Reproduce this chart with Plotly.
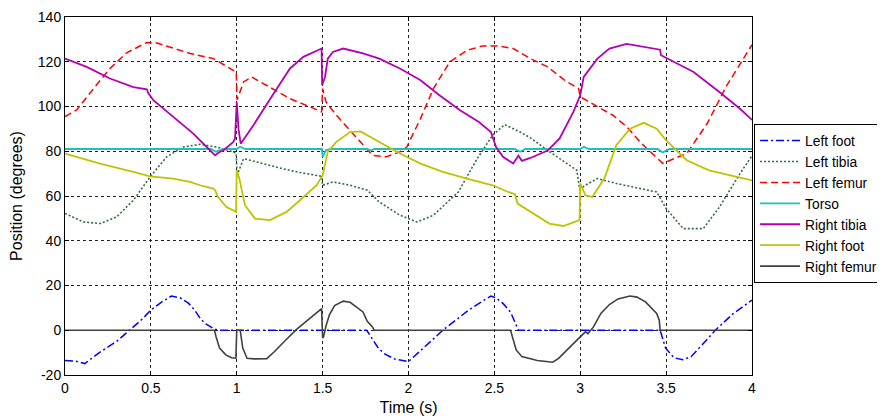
import plotly.graph_objects as go

# ---------------- data ----------------
left_foot_t = [0, 0.06, 0.115, 0.2, 0.3, 0.378, 0.45, 0.5, 0.56, 0.62, 0.67, 0.72, 0.755, 0.79, 0.82, 0.87, 0.9,
               1.0, 1.5, 1.757, 1.79, 1.82, 1.855, 1.92, 2.0, 2.1, 2.2, 2.3, 2.35, 2.42, 2.48, 2.51, 2.55, 2.595,
               2.64, 3.0, 3.465, 3.497, 3.547, 3.596, 3.645, 3.71, 3.786, 3.89, 4.0]
left_foot_v = [-13.5, -13.8, -14.9, -10, -5, 0, 5, 9, 12.5, 15.3, 14.5, 12, 9, 5, 2.8, 0.5, 0,
               0, 0, 0, -4, -7.5, -10.3, -12.9, -14, -7, 0, 6, 9, 12.5, 15.3, 14.5, 12, 8,
               0, 0, 0, -8, -12.3, -13.2, -11.8, -6.5, 0, 7.4, 13.5]

left_tibia_t = [0, 0.107, 0.204, 0.3, 0.398, 0.495, 0.592, 0.689, 0.786, 0.883, 0.98, 0.997, 1.002, 1.04, 1.116,
                1.25, 1.368, 1.427, 1.494, 1.5, 1.56, 1.66, 1.76, 1.83, 1.95, 2.05, 2.145, 2.29, 2.40, 2.49, 2.56,
                2.65, 2.71, 2.81, 2.98, 2.997, 3.03, 3.1, 3.21, 3.35, 3.445, 3.5, 3.6, 3.716, 3.81, 3.93, 4.0]
left_tibia_v = [52.2, 48.4, 47.7, 50.6, 58.1, 68.5, 77.5, 81.9, 83.1, 81.9, 79.7, 79, 69.3, 76.7, 75.2,
                72.5, 70.5, 69.8, 68.8, 64.8, 66.3, 64.8, 62.6, 57.3, 51.4, 48.4, 51.4, 61.8, 76.7, 87.2, 91.9,
                88.6, 86, 80.4, 71.5, 63, 64.8, 67.8, 65.6, 63.3, 61.8, 54.4, 45.4, 45.4, 55, 70, 78]

left_femur_t = [0, 0.068, 0.184, 0.262, 0.359, 0.476, 0.53, 0.65, 0.728, 0.864, 0.99, 0.997, 1.002, 1.02, 1.04,
                1.087, 1.194, 1.31, 1.427, 1.494, 1.5, 1.52, 1.58, 1.66, 1.735, 1.79, 1.87, 1.95, 1.99, 2.07,
                2.145, 2.24, 2.34, 2.43, 2.53, 2.61, 2.71, 2.81, 2.91, 2.99, 3.0, 3.19, 3.27, 3.35, 3.48, 3.62,
                3.74, 3.85, 4.0]
left_femur_v = [95.5, 98.5, 109.7, 117, 124, 128.6, 128.5, 125.4, 123.7, 121.4, 116, 115.4, 103, 106.5, 111,
                113.2, 108.7, 103.5, 99.8, 97.6, 108, 102, 96.1, 89.4, 82.7, 78.2, 77.5, 79.7, 81.9, 94.6,
                108, 119.9, 125.1, 127, 127, 125.9, 121.4, 117.7, 111.7, 108, 104.3, 96.1, 91, 84, 74.6, 79,
                92.5, 109, 127.6]

torso_t = [0, 0.85, 0.88, 0.92, 1.0, 1.02, 1.05, 1.495, 1.5, 1.52, 1.55, 1.76, 1.78, 1.8, 2.62, 2.65, 2.68,
           3.0, 3.02, 3.05, 3.45, 3.48, 3.52, 4.0]
torso_v = [81, 81, 79.8, 81, 81, 82, 81, 81, 77.5, 80.5, 81, 81, 80.3, 81, 81, 79.8, 81,
           81, 82, 81, 81, 79.5, 81, 81]

right_tibia_t = [0, 0.126, 0.262, 0.398, 0.476, 0.485, 0.514, 0.63, 0.747, 0.825, 0.874, 0.9, 0.922, 0.98, 0.99,
                 1.0, 1.01, 1.023, 1.1, 1.2, 1.31, 1.388, 1.494, 1.497, 1.514, 1.53, 1.56, 1.62, 1.735, 1.83,
                 1.95, 2.07, 2.18, 2.30, 2.41, 2.48, 2.51, 2.55, 2.61, 2.64, 2.66, 2.71, 2.81, 2.88, 2.96, 3.0,
                 3.02, 3.1, 3.17, 3.27, 3.35, 3.465, 3.47, 3.66, 3.81, 3.93, 4.0]
right_tibia_v = [121.4, 117.7, 112.5, 108.7, 107.7, 106, 102.8, 95.3, 87.9, 81.9, 78.2, 79.7, 80.4, 84.2, 85.7,
                 102, 90.1, 83.4, 92, 104, 117, 122.2, 125.9, 109.5, 113.2, 121.4, 124.4, 125.9, 123.7, 121.4,
                 117, 111.7, 105, 98.3, 93.1, 88.6, 81.9, 77.5, 74.5, 78, 75.7, 77, 80.3, 85.7, 97.6, 105,
                 113.2, 121.4, 125.9, 128, 127, 125.4, 122.9, 115.4, 106.5, 99, 94]

right_foot_t = [0, 0.204, 0.398, 0.495, 0.63, 0.728, 0.786, 0.864, 0.875, 0.89, 0.94, 0.996, 1.0, 1.015, 1.048,
                1.106, 1.194, 1.29, 1.368, 1.465, 1.5, 1.53, 1.58, 1.66, 1.72, 1.81, 1.95, 2.07, 2.2, 2.34,
                2.49, 2.58, 2.62, 2.635, 2.71, 2.82, 2.90, 2.996, 3.0, 3.03, 3.07, 3.14, 3.21, 3.29, 3.37,
                3.445, 3.5, 3.62, 3.75, 4.0]
right_foot_v = [79, 74.5, 70.8, 68.8, 67.8, 66.3, 64.8, 63.3, 62.5, 59.6, 55.1, 52.9, 71.5, 67.8, 55.9,
                49.9, 49.2, 52.9, 58.1, 64.8, 69.3, 79.7, 84.2, 88.6, 88.9, 84.9, 79, 74.5, 70.8, 67.8,
                64.8, 61.8, 60.8, 56.6, 52.9, 47.7, 46.6, 49.2, 65.6, 60.3, 59.6, 67.8, 82.7, 90.1, 92.7,
                90.1, 84.9, 76, 71.5, 67]

right_femur_t = [0, 0.87, 0.88, 0.9, 0.936, 0.97, 0.995, 1.0, 1.02, 1.035, 1.06, 1.1, 1.175, 1.22, 1.29, 1.35,
                 1.494, 1.5, 1.505, 1.52, 1.54, 1.57, 1.62, 1.66, 1.735, 1.76, 1.79, 1.8, 2.594, 2.627, 2.66,
                 2.75, 2.84, 2.874, 2.96, 3.0, 3.03, 3.045, 3.077, 3.12, 3.17, 3.22, 3.29, 3.33, 3.38, 3.445,
                 3.46, 3.465, 4.0]
right_femur_v = [0, 0, -3, -8, -11, -12.3, -12.5, 0, 0, -8, -12.5, -12.8, -12.7, -9.5, -4, 0.5,
                 9.7, -3.5, -3, 2, 7, 11, 13, 12.5, 8.2, 4, 1.5, 0, 0, -8.8, -11.8,
                 -13.5, -14.3, -12.6, -6, -3, -0.7, -1.5, 1.5, 7.5, 11.5, 14, 15.3, 14.8, 12.7, 7.5,
                 4.5, 0, 0]

x_ticks = [0, 0.5, 1, 1.5, 2, 2.5, 3, 3.5, 4]
x_tick_labels = ["0", "0.5", "1", "1.5", "2", "2.5", "3", "3.5", "4"]
y_ticks = [-20, 0, 20, 40, 60, 80, 100, 120, 140]
y_tick_labels = ["-20", "0", "20", "40", "60", "80", "100", "120", "140"]

# ---------------- figure ----------------
series = [
    ("Left foot", left_foot_t, left_foot_v, "#0000ff", "8px,3px,2px,3px", 1.5),
    ("Left tibia", left_tibia_t, left_tibia_v, "#2f6f3f", "2px,2px", 1.6),
    ("Left femur", left_femur_t, left_femur_v, "#ff0000", "7px,4px", 1.5),
    ("Torso", torso_t, torso_v, "#1fbfbf", "solid", 1.8),
    ("Right tibia", right_tibia_t, right_tibia_v, "#b400b4", "solid", 1.8),
    ("Right foot", right_foot_t, right_foot_v, "#bfc300", "solid", 1.8),
    ("Right femur", right_femur_t, right_femur_v, "#404040", "solid", 1.6),
]

fig = go.Figure()
for name, t, v, color, dash, w in series:
    fig.add_trace(go.Scatter(x=t, y=v, mode="lines", name=name,
                             line=dict(color=color, dash=dash, width=w)))

FONT = "Arial, Liberation Sans"
axis_common = dict(
    showline=True, linecolor="black", linewidth=1, mirror="ticks",
    ticks="inside", ticklen=4, tickcolor="black",
    showgrid=True, gridcolor="#222222", gridwidth=1, griddash="3px,3px",
    zeroline=False, tickfont=dict(family=FONT, size=14, color="black"),
)

fig.update_xaxes(range=[0, 4], tickvals=x_ticks, ticktext=x_tick_labels,
                 title=dict(text="Time (s)", font=dict(family=FONT, size=16, color="black"),
                            standoff=7),
                 **axis_common)
fig.update_yaxes(range=[-20, 140], tickvals=y_ticks, ticktext=y_tick_labels,
                 title=dict(text="Position (degrees)", font=dict(family=FONT, size=16, color="black"),
                            standoff=11),
                 **axis_common)

# page body has an 8px margin, so the figure is sized to sit inside the 885x420 window
fig.update_layout(
    width=877, height=412,
    margin=dict(l=57, r=133, t=9, b=45, autoexpand=False),
    paper_bgcolor="white", plot_bgcolor="white",
    font=dict(family=FONT, color="black"),
    legend=dict(x=1.003, y=0.701, xanchor="left", yanchor="top",
                bordercolor="black", borderwidth=1, bgcolor="white",
                font=dict(family=FONT, size=13.8, color="black"),
                tracegroupgap=0, itemwidth=40,
                entrywidth=110, entrywidthmode="pixels"),
    showlegend=True,
)

fig.write_html("out.html")
